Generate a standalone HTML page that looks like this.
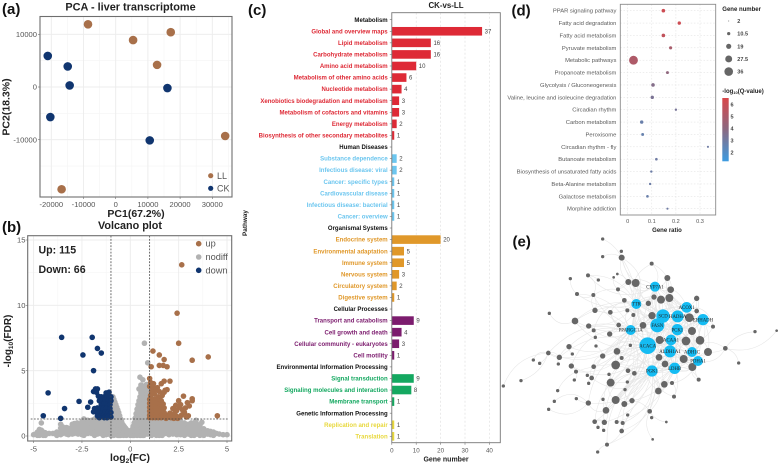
<!DOCTYPE html>
<html lang="en">
<head>
<meta charset="utf-8">
<title>Liver transcriptome figure</title>
<style>
html,body{margin:0;padding:0;background:#fff;}
body{width:778px;height:467px;overflow:hidden;}
svg{display:block;filter:blur(.3px);}
text{font-family:"Liberation Sans",sans-serif;}
.panel{font-size:15px;font-weight:bold;fill:#111;}
.ttl{font-weight:bold;fill:#222;}
</style>
</head>
<body>
<svg id="fig" xmlns="http://www.w3.org/2000/svg" width="778" height="467" viewBox="0 0 778 467">
  <g id="edges-e" fill="none"></g>
  <g id="nodes-e"></g>
  <g id="pa"></g>
  <g id="pb"></g>
  <g id="pc"></g>
  <g id="pd"></g>

  <text class="panel" x="2" y="14">(a)</text>
  <text class="ttl" x="130.5" y="10.5" font-size="10.9" text-anchor="middle">PCA - liver transcriptome</text>
  <text class="ttl" x="136" y="217" font-size="10.5" text-anchor="middle">PC1(67.2%)</text>
  <text class="ttl" font-size="10.5" text-anchor="middle" transform="translate(9.5,107) rotate(-90)">PC2(18.3%)</text>
  <text x="217" y="179" font-size="9" fill="#555">LL</text>
  <text x="217" y="191.5" font-size="9" fill="#555">CK</text>

  <text class="panel" x="2" y="232">(b)</text>
  <text class="ttl" x="130" y="229" font-size="10.8" text-anchor="middle">Volcano plot</text>
  <text x="38.5" y="253.5" font-size="10.6" font-weight="bold" fill="#222">Up: 115</text>
  <text x="38.5" y="273" font-size="10.6" font-weight="bold" fill="#222">Down: 66</text>
  <text x="205.5" y="246.5" font-size="9.2" fill="#555">up</text>
  <text x="205.5" y="260" font-size="9.2" fill="#555">nodiff</text>
  <text x="205.5" y="273.5" font-size="9.2" fill="#555">down</text>
  <text class="ttl" x="130" y="461" font-size="10.4" text-anchor="middle">log<tspan font-size="6.5" dy="2">2</tspan><tspan dy="-2">(FC)</tspan></text>
  <text class="ttl" font-size="10" text-anchor="middle" transform="translate(11,341) rotate(-90)">-log<tspan font-size="6.5" dy="2">10</tspan><tspan dy="-2">(FDR)</tspan></text>

  <text class="panel" x="248" y="15">(c)</text>
  <text class="ttl" x="446" y="8" font-size="7.9" text-anchor="middle">CK-vs-LL</text>
  <text class="ttl" x="446" y="461.5" font-size="7" text-anchor="middle">Gene number</text>
  <text class="ttl" font-size="6.4" text-anchor="middle" transform="translate(247,223) rotate(-90)">Pathway</text>

  <text class="panel" x="511.5" y="15.5">(d)</text>
  <text class="ttl" x="667" y="232" font-size="6" text-anchor="middle">Gene ratio</text>
  <text class="ttl" x="722.3" y="10.8" font-size="6">Gene number</text>
  <text class="ttl" x="722.3" y="93" font-size="6">-log<tspan font-size="4" dy="1">10</tspan><tspan dy="-1">(Q-value)</tspan></text>
  <defs>
    <linearGradient id="qgrad" x1="0" y1="0" x2="0" y2="1">
      <stop offset="0" stop-color="#d9474a"/>
      <stop offset=".5" stop-color="#8a6a82"/>
      <stop offset="1" stop-color="#3d9be0"/>
    </linearGradient>
  </defs>
  <rect x="722.3" y="98" width="6.4" height="63.3" fill="url(#qgrad)"/>

  <text class="panel" x="512.5" y="246.5">(e)</text>
</svg>

<script>
/* ---------- (a) PCA data ---------- */
const pcaLL = [[-8600,11900],[5400,8900],[17100,10400],[12850,4200],[34000,-9300],[-16800,-19400]];
const pcaCK = [[-21100,5900],[-14900,3900],[-14300,300],[-20300,-5700],[16060,-200],[10570,-10130]];
const pcaXTicks = [-20000,-10000,0,10000,20000,30000];
const pcaYTicks = [-10000,0,10000];

/* ---------- (b) Volcano data ---------- */
const volXTicks = [-5,-2.5,0,2.5,5];
const volXTickLabels = ['-5','-2.5','0','2.5','5'];
const volYTicks = [0,5,10,15];
const nodiffFc = [-5,-4.9,-4.8,-4.7,-4.6,-4.5,-4.4,-4.2,-4,-3.8,-3.6,-3.5,-3.3,-3.2,-3,-2.9,-2.7,-2.5,-2.4,-2.2,-2,-1.85,-1.7,-1.55,-1.4,-1.25,-1.1,-1.05,-1,-.95,-.9,-.85,-.8,-.75,-.7,-.65,-.6,-.55,-.5,-.45,-.4,-.35,-.3,-.25,-.2,-.15,-.1,-.05,0,.05,.1,.15,.2,.25,.3,.35,.4,.45,.5,.55,.6,.65,.7,.75,.8,.85,.9,.95,1,1.1,1.2,1.35,1.5,1.65,1.8,2,2.2,2.4,2.6,2.8,3,3.15,3.3,3.45,3.6,3.8,4,4.15,4.3,4.45,4.6,4.8,5];
const nodiffTop = [.1,.15,.3,.5,.45,.3,.25,.2,.2,.3,.6,.7,.65,.6,.9,.95,.9,1.1,1.3,1.2,1.2,1.3,1.4,1.45,1.5,1.6,1.9,2.2,2.8,3,3,2.8,2.6,2.4,2.2,2,1.8,1.55,1.3,1.1,.9,.8,.7,.6,.5,.45,.4,.35,.3,.35,.5,.75,1,1.35,1.7,2.05,2.4,2.7,3,3.3,3.6,3.55,3.5,3.7,3.9,3.95,3.9,3.7,3.4,2,1.2,1.25,1.3,1.3,1.2,1.1,1.15,1.1,1.1,1,.9,1,1,.9,.8,.55,.4,.35,.3,.2,.15,.1,.1];
const nodiffExtra = [[.73,7.1],[.9,5.6],[.5,4.5],[.65,4.3],[.45,3.6],[.55,3.9],[-4.6,1],[-2.75,1],[-2.4,1.3],[-3.6,.9],[3.4,1.2],[3.7,1.05]];
const upPoints = [[2.66,13.1],[2.42,9.4],[2.5,7.1],[1.17,6.5],[1.5,6.2],[1.75,5.85],[3.2,5.8],[4.03,6.05],[1.08,5.3],[1.5,5.4],[1.7,5.4],[1.9,5.3],[4.5,1.55],
[1,4.4],[1.05,4.1],[1.2,4],[1,3.8],[1.4,3.7],[1.6,4],[1.75,4.2],[2.05,4.2],[1.3,3.5],[1.5,3.4],[1.8,3.5],[1.9,3.55],[1.1,3.4],[1.05,3.1],[1.25,3.2],[1.45,3],[1.65,3.1],[1.75,3.35],[1.15,3.75],
[1,2.8],[1.15,2.8],[1.3,2.8],[1.45,2.7],[1.6,2.7],[1,2.5],[1.15,2.5],[1.3,2.5],[1.45,2.4],[1.6,2.4],[1.7,2.45],[1,2.2],[1.15,2.2],[1.3,2.2],[1.45,2.1],[1.6,2.1],[1.75,2.15],[1,1.9],[1.15,1.9],[1.3,1.9],[1.45,1.85],[1.6,1.8],[1.75,1.8],[1,1.6],[1.15,1.6],[1.3,1.6],[1.45,1.6],[1.6,1.55],[1.75,1.5],[1.85,1.6],[1,1.4],[1.15,1.4],[1.3,1.4],[1.45,1.4],[1.6,1.4],[1.85,1.35],
[2.75,3.05],[3.2,2.85],[3.2,2.7],[2.5,2.7],[2.95,2.55],[2.35,2.35],[2.55,2.2],[2.2,2.1],[2.7,2],[2.8,1.8],[2.05,1.75],[2.15,1.55],[2.4,1.5],[2.55,1.45],[2.3,1.75],[3,1.55],[2.9,1.45],[1.95,1.45],[2.25,1.35],[2.65,1.6],[2.4,1.95],[3.05,2.3],[2.1,1.4],[2.45,1.35],[2.6,2.4],[2.85,2.15]];
const downPoints = [[-3.55,7.55],[-1.97,7.55],[-1.7,6.7],[-1.5,6.35],[-2.45,6.2],[-1.9,5],[-4.25,3.3],[-2.65,2.65],[-2.05,2.6],[-3.4,2.1],[-2.2,2.2],[-4.5,1.55],[-3.6,1.35],
[-1.8,3.6],[-1.7,3.6],[-1.9,3.4],[-1.75,3.35],[-1.25,3.3],[-1.1,3.35],[-1.5,3],[-1.65,3.05],[-1.35,3],[-1.2,3],[-1,3],
[-1.6,2.7],[-1.45,2.7],[-1.3,2.75],[-1.15,2.7],[-1,2.7],[-1.5,2.4],[-1.35,2.45],[-1.2,2.4],[-1.05,2.4],[-1.85,2.1],[-1.7,2.15],[-1.55,2.1],[-1.4,2.1],[-1.25,2.1],[-1.05,2.1],[-1.9,1.85],[-1.75,1.85],[-1.6,1.8],[-1.45,1.8],[-1.3,1.85],[-1.15,1.8],[-1,1.8],[-1.7,1.55],[-1.55,1.55],[-1.4,1.55],[-1.25,1.55],[-1.1,1.55],[-1,1.45],[-1.35,1.4],[-1.6,1.4],[-1.2,1.4]];

/* ---------- (c) Bar data ---------- */
const barNames = ['Metabolism','Global and overview maps','Lipid metabolism','Carbohydrate metabolism','Amino acid metabolism','Metabolism of other amino acids','Nucleotide metabolism','Xenobiotics biodegradation and metabolism','Metabolism of cofactors and vitamins','Energy metabolism','Biosynthesis of other secondary metabolites','Human Diseases','Substance dependence','Infectious disease: viral','Cancer: specific types','Cardiovascular disease','Infectious disease: bacterial','Cancer: overview','Organismal Systems','Endocrine system','Environmental adaptation','Immune system','Nervous system','Circulatory system','Digestive system','Cellular Processes','Transport and catabolism','Cell growth and death','Cellular community - eukaryotes','Cell motility','Environmental Information Processing','Signal transduction','Signaling molecules and interaction','Membrane transport','Genetic Information Processing','Replication and repair','Translation'];
const barValues = [null,37,16,16,10,6,4,3,3,2,1,null,2,2,1,1,1,1,null,20,5,5,3,2,1,null,9,4,3,1,null,9,8,1,null,1,1];
const barGroups = [0,0,0,0,0,0,0,0,0,0,0,1,1,1,1,1,1,1,2,2,2,2,2,2,2,3,3,3,3,3,4,4,4,4,5,5,5];
const barXTicks = [0,10,20,30,40];

/* ---------- (d) Dot data ---------- */
const dotNames = ['PPAR signaling pathway','Fatty acid degradation','Fatty acid metabolism','Pyruvate metabolism','Metabolic pathways','Propanoate metabolism','Glycolysis / Gluconeogenesis','Valine, leucine and isoleucine degradation','Circadian rhythm','Carbon metabolism','Peroxisome','Circadian rhythm - fly','Butanoate metabolism','Biosynthesis of unsaturated fatty acids','Beta-Alanine metabolism','Galactose metabolism','Morphine addiction'];
const dotRatio = [.148,.214,.148,.178,.024,.165,.105,.102,.2,.058,.062,.333,.119,.098,.093,.082,.165];
const dotGenes = [12,11,12,10,37,9,12,11,7,11,9,6,8,7,7,8,6];
const dotQ = [6,6,5.6,4.8,5,4,3.6,3.3,3.2,2.7,2.6,2.9,2.9,2.8,2.8,2.7,2.9];
const dotXTicks = [0,.1,.2,.3];
const dotXTickLabels = ['0','0.1','0.2','0.3'];
const sizeLegendValues = [2,10.5,19,27.5,36];
const qLegendValues = [6,5,4,3,2];

/* ---------- (e) Network data (layout units) ---------- */
const netGrey = [[368,42,5],[424,79,5],[368,95,5],[425,98,9],[515,116,6],[271,161,5],[324,151,6],[355,165,5],[412,147,4],[401,157,4],[445,171,9],[467,174,12],[562,159,9],[414,193,6],[572,194,10],[291,207,6],[340,210,6],[522,216,8],[543,224,12],[568,219,12],[650,220,8],[433,226,7],[505,235,8],[208,265,5],[345,256,8],[391,262,7],[442,256,6],[460,270,6],[516,272,11],[628,278,13],[650,258,7],[285,288,10],[326,303,8],[341,316,6],[416,300,7],[489,301,10],[389,327,8],[346,337,5],[699,305,6],[825,320,5],[890,317,4],[636,318,12],[539,345,12],[618,348,13],[660,346,13],[267,365,8],[348,363,5],[451,361,5],[411,379,10],[205,384,7],[277,387,5],[368,393,8],[425,399,6],[684,381,12],[736,370,7],[238,397,8],[160,405,5],[179,415,5],[235,417,5],[537,397,10],[555,417,10],[611,402,12],[637,426,12],[776,414,5],[274,423,8],[341,425,7],[407,420,13],[288,440,6],[444,437,7],[463,445,7],[322,451,5],[335,459,7],[387,448,5],[283,465,5],[326,475,5],[392,473,12],[442,471,5],[123,467,5],[70,483,5],[435,494,5],[553,478,10],[576,474,6],[656,464,6],[535,498,10],[233,497,5],[582,515,6],[223,529,5],[289,521,5],[369,523,5],[325,534,8],[407,525,12],[433,537,9],[456,527,8],[206,553,5],[378,556,10],[509,559,7],[443,570,5],[515,578,5],[344,590,7],[373,592,8],[410,591,6],[428,594,6],[559,591,4],[354,607,5],[371,616,5],[425,618,7],[518,643,4],[381,659,6],[353,681,5]];
const netHubs = [['CYP7A1',525,185,15],['TTR',469,237,15],['ACOX1',620,247,16],['SCD',549,273,20],['HADHA',593,274,18],['EHHADH',669,284,17],['FASN',532,301,21],['PCK1',592,314,17],['PPARGC1A',452,315,15],['ACAA1',573,345,16],['ACACA',503,362,25],['ALDH1A1',570,379,18],['ADH1C',636,381,15],['PDHA1',654,408,15],['LDHB',584,430,17],['PGK1',516,438,17]];

const NS = 'http://www.w3.org/2000/svg';
function add(parent, tag, attrs, txt){
  const el = document.createElementNS(NS, tag);
  for (const k in attrs) el.setAttribute(k, attrs[k]);
  if (txt !== undefined) el.textContent = txt;
  parent.appendChild(el);
  return el;
}
const lin = (d0,d1,r0,r1) => v => r0 + (v-d0)*(r1-r0)/(d1-d0);
const GRID = '#ececec', AXIS = '#6e6e6e', TICKTXT = '#555';

/* ---------- draw (a) ---------- */
(function(){
  const g = document.getElementById('pa');
  const x = lin(0,10000,115.7,147.9), y = lin(0,10000,87,34.3);
  const L=40, R=232, T=16.5, B=197;
  const xs = pcaXTicks.slice(), ys = pcaYTicks.slice();
  xs.forEach(t=>{
    const m = add(g,'line',{x1:x(t+5000),x2:x(t+5000),y1:T,y2:B,stroke:'#f4f4f4','stroke-width':.6});
    
    
  });
  [-15000,-5000,5000].forEach(t=>{
    const m = add(g,'line',{x1:L,x2:R,y1:y(t),y2:y(t),stroke:'#f4f4f4','stroke-width':.6});
    
    
  });
  xs.forEach(t=>{
    const l = add(g,'line',{x1:x(t),x2:x(t),y1:T,y2:B,stroke:GRID,'stroke-width':.9});
    
    
    const k = add(g,'line',{x1:x(t),x2:x(t),y1:B,y2:B+2,stroke:AXIS,'stroke-width':.6});
    
    
    const s = add(g,'text',{x:x(t),y:206.8,'font-size':7.6,'text-anchor':'middle',fill:TICKTXT},String(t));
    
    
  });
  ys.forEach(t=>{
    const l = add(g,'line',{x1:L,x2:R,y1:y(t),y2:y(t),stroke:GRID,'stroke-width':.9});
    
    
    const k = add(g,'line',{x1:L-2,x2:L,y1:y(t),y2:y(t),stroke:AXIS,'stroke-width':.6});
    
    
    const s = add(g,'text',{x:37,y:y(t)+2.6,'font-size':7.6,'text-anchor':'end',fill:TICKTXT},String(t));
    
    
  });
  const b = add(g,'rect',{x:L,y:T,width:R-L,height:B-T,fill:'none',stroke:AXIS,'stroke-width':1.1});
  
  
  pcaLL.forEach(p=>{
    const c = add(g,'circle',{cx:x(p[0]),cy:y(p[1]),r:4.3,fill:'#a8704a'});
    
    
  });
  pcaCK.forEach(p=>{
    const c = add(g,'circle',{cx:x(p[0]),cy:y(p[1]),r:4.3,fill:'#10356f'});
    
    
  });
  const l1 = add(g,'circle',{cx:210.7,cy:175.7,r:2.6,fill:'#a8704a'});
  
  
  const l2 = add(g,'circle',{cx:210.7,cy:188.3,r:2.6,fill:'#10356f'});
  
  
})();

/* ---------- draw (b) ---------- */
(function(){
  const g = document.getElementById('pb');
  const x = lin(0,5,130.3,227), y = lin(0,15,436,240);
  const L=27.7, R=231.7, T=235.7, B=441;
  const PT = 2.8;
  [-3.75,-1.25,1.25,3.75].forEach(t=>{
    const m = add(g,'line',{x1:x(t),x2:x(t),y1:T,y2:B,stroke:'#f5f5f5','stroke-width':.6});
    
    
  });
  [2.5,7.5,12.5].forEach(t=>{
    const m = add(g,'line',{x1:L,x2:R,y1:y(t),y2:y(t),stroke:'#f5f5f5','stroke-width':.6});
    
    
  });
  volXTicks.forEach((t,i)=>{
    const l = add(g,'line',{x1:x(t),x2:x(t),y1:T,y2:B,stroke:GRID,'stroke-width':.9});
    
    
    const k = add(g,'line',{x1:x(t),x2:x(t),y1:B,y2:B+2,stroke:AXIS,'stroke-width':.6});
    
    
    const s = add(g,'text',{x:x(t),y:451.5,'font-size':7.6,'text-anchor':'middle',fill:TICKTXT},volXTickLabels[i]);
    
    
  });
  volYTicks.forEach(t=>{
    const l = add(g,'line',{x1:L,x2:R,y1:y(t),y2:y(t),stroke:GRID,'stroke-width':.9});
    
    
    const k = add(g,'line',{x1:L-2,x2:L,y1:y(t),y2:y(t),stroke:AXIS,'stroke-width':.6});
    
    
    const s = add(g,'text',{x:25.5,y:y(t)+2.6,'font-size':7.6,'text-anchor':'end',fill:TICKTXT},String(t));
    
    
  });
  nodiffFc.forEach((fc,i)=>{
    const top = nodiffTop[i];
    for (let v = top; v >= -0.001; v -= 0.25){
      const c = add(g,'circle',{cx:x(fc),cy:y(Math.max(v,0.05)),r:PT,fill:'#b2b2b2'});
      
      
    }
  });
  nodiffExtra.forEach(p=>{
    const c = add(g,'circle',{cx:x(p[0]),cy:y(p[1]),r:PT,fill:'#b2b2b2'});
    
    
  });
  upPoints.forEach(p=>{
    const c = add(g,'circle',{cx:x(p[0]),cy:y(p[1]),r:PT,fill:'#a8704a'});
    
    
  });
  downPoints.forEach(p=>{
    const c = add(g,'circle',{cx:x(p[0]),cy:y(p[1]),r:PT,fill:'#10356f'});
    
    
  });
  [-1,1].forEach(t=>{
    const d = add(g,'line',{x1:x(t),x2:x(t),y1:T,y2:B,stroke:'#444','stroke-width':.8,'stroke-dasharray':'1.8 1.4'});
    
    
  });
  const h = add(g,'line',{x1:L+3,x2:R-3,y1:y(1.3),y2:y(1.3),stroke:'#444','stroke-width':.8,'stroke-dasharray':'1.8 1.4'});
  
  
  const b = add(g,'rect',{x:L,y:T,width:R-L,height:B-T,fill:'none',stroke:AXIS,'stroke-width':1.1});
  
  
  const swatches = [['#a8704a',243.7],['#b2b2b2',257],['#10356f',270.3]];
  swatches.forEach(s=>{
    const c = add(g,'circle',{cx:198.7,cy:s[1],r:2.8,fill:s[0]});
    
    
  });
})();

/* ---------- draw (c) ---------- */
(function(){
  const g = document.getElementById('pc');
  const colors = ['#de2a36','#6cc6ef','#e0982a','#7c1c6e','#14a860','#e8d83c'];
  const x = lin(0,10,391.8,416.2), y = i => 19.7 + i*11.573;
  const L=391.8, R=500.3, T=12.7, B=442.7;
  barXTicks.forEach(t=>{
    if (t>0){
      const l = add(g,'line',{x1:x(t),x2:x(t),y1:T,y2:B,stroke:'#dcdcdc','stroke-width':.6,'stroke-dasharray':'2 2'});
      
      
    }
    const k = add(g,'line',{x1:x(t),x2:x(t),y1:B,y2:B+2,stroke:AXIS,'stroke-width':.6});
    
    
    const s = add(g,'text',{x:x(t),y:452.5,'font-size':6.2,'text-anchor':'middle',fill:TICKTXT},String(t));
    
    
  });
  barNames.forEach((name,i)=>{
    const v = barValues[i], head = v === null;
    const fill = head ? '#111' : colors[barGroups[i]];
    const s = add(g,'text',{x:387.7,y:y(i)+2.1,'font-size':6.05,'font-weight':'bold','text-anchor':'end',fill:fill},name);
    
    
    const k = add(g,'line',{x1:L-2,x2:L,y1:y(i),y2:y(i),stroke:AXIS,'stroke-width':.6});
    
    
    if (!head){
      const r = add(g,'rect',{x:L,y:y(i)-4.3,width:x(v)-L,height:8.6,fill:fill});
      
      
      const t = add(g,'text',{x:x(v)+2.6,y:y(i)+2.1,'font-size':6,fill:'#444'},String(v));
      
      
    }
  });
  const b = add(g,'rect',{x:L,y:T,width:R-L,height:B-T,fill:'none',stroke:'#777','stroke-width':.9});
  
  
})();

/* ---------- draw (d) ---------- */
(function(){
  const g = document.getElementById('pd');
  const x = lin(0,.1,627.7,651.8), y = i => 10.7 + i*12.375;
  const L=620.3, R=715.7, T=4.3, B=215;
  const rad = n => 0.1 + 0.215*Math.pow(n,0.83);
  const mix = q => {
    const t = Math.min(1,Math.max(0,(q-1.2)/(6.4-1.2)));
    const a=[61,155,224], m=[138,106,130], z=[217,71,74];
    const f = t<.5 ? a.map((c,i)=>c+(m[i]-c)*t*2) : m.map((c,i)=>c+(z[i]-c)*(t-.5)*2);
    return 'rgb('+f.map(Math.round).join(',')+')';
  };
  dotXTicks.forEach((t,i)=>{
    const l = add(g,'line',{x1:x(t),x2:x(t),y1:T,y2:B,stroke:'#dedede','stroke-width':.5,'stroke-dasharray':'1.6 1.6'});
    
    
    const s = add(g,'text',{x:x(t),y:223,'font-size':5.6,'text-anchor':'middle',fill:TICKTXT},dotXTickLabels[i]);
    
    
  });
  dotNames.forEach((name,i)=>{
    const l = add(g,'line',{x1:L,x2:R,y1:y(i),y2:y(i),stroke:'#dedede','stroke-width':.5,'stroke-dasharray':'1.6 1.6'});
    
    
    const s = add(g,'text',{x:616.4,y:y(i)+2,'font-size':5.85,'text-anchor':'end',fill:'#5a5a5a'},name);
    
    
  });
  dotNames.forEach((name,i)=>{
    const c = add(g,'circle',{cx:x(dotRatio[i]),cy:y(i),r:rad(dotGenes[i]),fill:mix(dotQ[i])});
    
    
  });
  const b = add(g,'rect',{x:L,y:T,width:R-L,height:B-T,fill:'none',stroke:'#8a8a8a','stroke-width':.9});
  
  
  sizeLegendValues.forEach((v,i)=>{
    const cy = 21 + i*12.65;
    const c = add(g,'circle',{cx:728.7,cy:cy,r:rad(v),fill:'#666'});
    
    
    const s = add(g,'text',{x:737.3,y:cy+2,'font-size':5.5,'font-weight':'bold',fill:'#444'},String(v));
    
    
  });
  const qy = lin(2,6,152.7,104.7);
  qLegendValues.forEach(v=>{
    const s = add(g,'text',{x:730.5,y:qy(v)+2,'font-size':5.5,'font-weight':'bold',fill:'#444'},String(v));
    
    
  });
})();

/* ---------- draw (e) ---------- */
(function(){
  const eg = document.getElementById('edges-e'), ng = document.getElementById('nodes-e');
  const x = v => 480 + v/3, y = v => 225 + v/3;
  const grey = netGrey.map(n=>({x:n[0],y:n[1],r:n[2]}));
  const hubs = netHubs.map(n=>({name:n[0],x:n[1],y:n[2],r:n[3]}));
  const all = grey.concat(hubs);
  const dist = (a,b) => Math.hypot(a.x-b.x,a.y-b.y);
  function edge(a,b,i){
    const mx=(a.x+b.x)/2, my=(a.y+b.y)/2, dx=b.x-a.x, dy=b.y-a.y;
    const s = (i%2?1:-1)*(0.18+(i%5)*0.07);
    const d = 'M'+x(a.x).toFixed(1)+' '+y(a.y).toFixed(1)+'Q'+x(mx-dy*s).toFixed(1)+' '+y(my+dx*s).toFixed(1)+' '+x(b.x).toFixed(1)+' '+y(b.y).toFixed(1);
    const p = add(eg,'path',{d:d,fill:'none',stroke:'#e6e6e6','stroke-width':.55});
    
    
  }
  let n = 0;
  grey.forEach(a=>{
    if (a.r <= 5){
      const near = all.filter(o=>o!==a && o.r>5).sort((p,q)=>dist(a,p)-dist(a,q))[0];
      edge(a,near,n++);
    } else {
      const near = hubs.slice().sort((p,q)=>dist(a,p)-dist(a,q)).slice(0,a.r>=9?4:2);
      near.forEach(h=>edge(a,h,n++));
      const peer = grey.filter(o=>o!==a && o.r>5).sort((p,q)=>dist(a,p)-dist(a,q))[0];
      edge(a,peer,n++);
    }
  });
  hubs.forEach((a,i)=>hubs.slice(i+1).forEach(b=>edge(a,b,n++)));
  grey.forEach(a=>{
    const c = add(ng,'circle',{cx:x(a.x),cy:y(a.y),r:a.r/3,fill:'#666'});
    
    
  });
  hubs.forEach(a=>{
    const c = add(ng,'circle',{cx:x(a.x),cy:y(a.y),r:a.r/3,fill:'#15bcf3'});
    
    
  });
  hubs.forEach(a=>{
    const s = add(ng,'text',{x:x(a.x),y:y(a.y)+1.6,'font-size':4.8,'text-anchor':'middle',fill:'#222','style':'font-family:"Liberation Serif",serif'},a.name);
    
    
  });
})();
</script>
</body>
</html>
